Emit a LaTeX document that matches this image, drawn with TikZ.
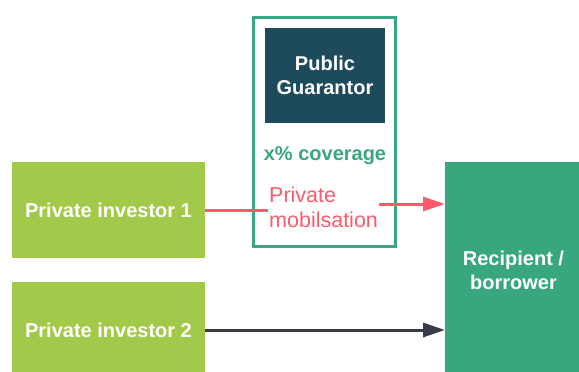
\documentclass[tikz,border=0pt]{standalone}
\usepackage{fontspec}
\setmainfont{Liberation Sans}
\usetikzlibrary{arrows.meta}
\definecolor{limeGreen}{HTML}{A3C94A}
\definecolor{tealGreen}{HTML}{38A77E}
\definecolor{darkPetrol}{HTML}{1E4B5C}
\definecolor{coralRed}{HTML}{FF5A6B}
\definecolor{darkSlate}{HTML}{363B45}
\begin{document}
\begin{tikzpicture}[x=1pt, y=-1pt,
		boxText/.style={text=white, font=\fontsize{20}{24}\selectfont\bfseries, align=center, inner sep=0pt, outer sep=0pt},
		investorBox/.style={rectangle, fill=limeGreen, minimum width=193pt, minimum height=96pt, boxText},
		flowArrow/.style={line width=3pt, -{Triangle[length=22pt,width=14pt]}}]
			\useasboundingbox (0,0) rectangle (579,372);
			\clip (0,0) rectangle (579,372);

			% guarantee frame and guarantor
			\node[rectangle, draw=tealGreen, line width=2.8pt, minimum width=142.2pt, minimum height=229.2pt, inner sep=0pt, outer sep=0pt](coverageBox) at (324.5,132){};
			\node[rectangle, fill=darkPetrol, minimum width=120pt, minimum height=95pt, boxText](guarantorBox) at (325,75.5){Public\\Guarantor};
			\node[text=tealGreen, font=\fontsize{20}{24}\selectfont\bfseries, inner sep=0pt](coverageText) at (325,155.5){x\% coverage};
			\node[text=coralRed, font=\fontsize{21.5}{25}\selectfont, align=left, anchor=west, inner xsep=1pt, inner ysep=0pt](mobilText) at (268,207){Private\\mobilsation};

			% investors and recipient
			\node[investorBox](investor1Box) at (108.5,210){Private investor 1};
			\node[investorBox](investor2Box) at (108.5,330){Private investor 2};
			\node[rectangle, fill=tealGreen, minimum width=137pt, minimum height=216pt, boxText](recipientBox) at (513.5,270){Recipient /\\borrower};

			% flows
			\draw[coralRed, line width=3pt] (investor1Box.east) -- (mobilText.west |- investor1Box.east);
			\coordinate (mobilOut) at ([yshift=3pt]mobilText.east);
			\draw[coralRed, flowArrow] (mobilOut) -- (mobilOut -| recipientBox.west);
			\draw[darkSlate, flowArrow] (investor2Box.east) -- (investor2Box.east -| recipientBox.west);
		\end{tikzpicture}
\end{document}
